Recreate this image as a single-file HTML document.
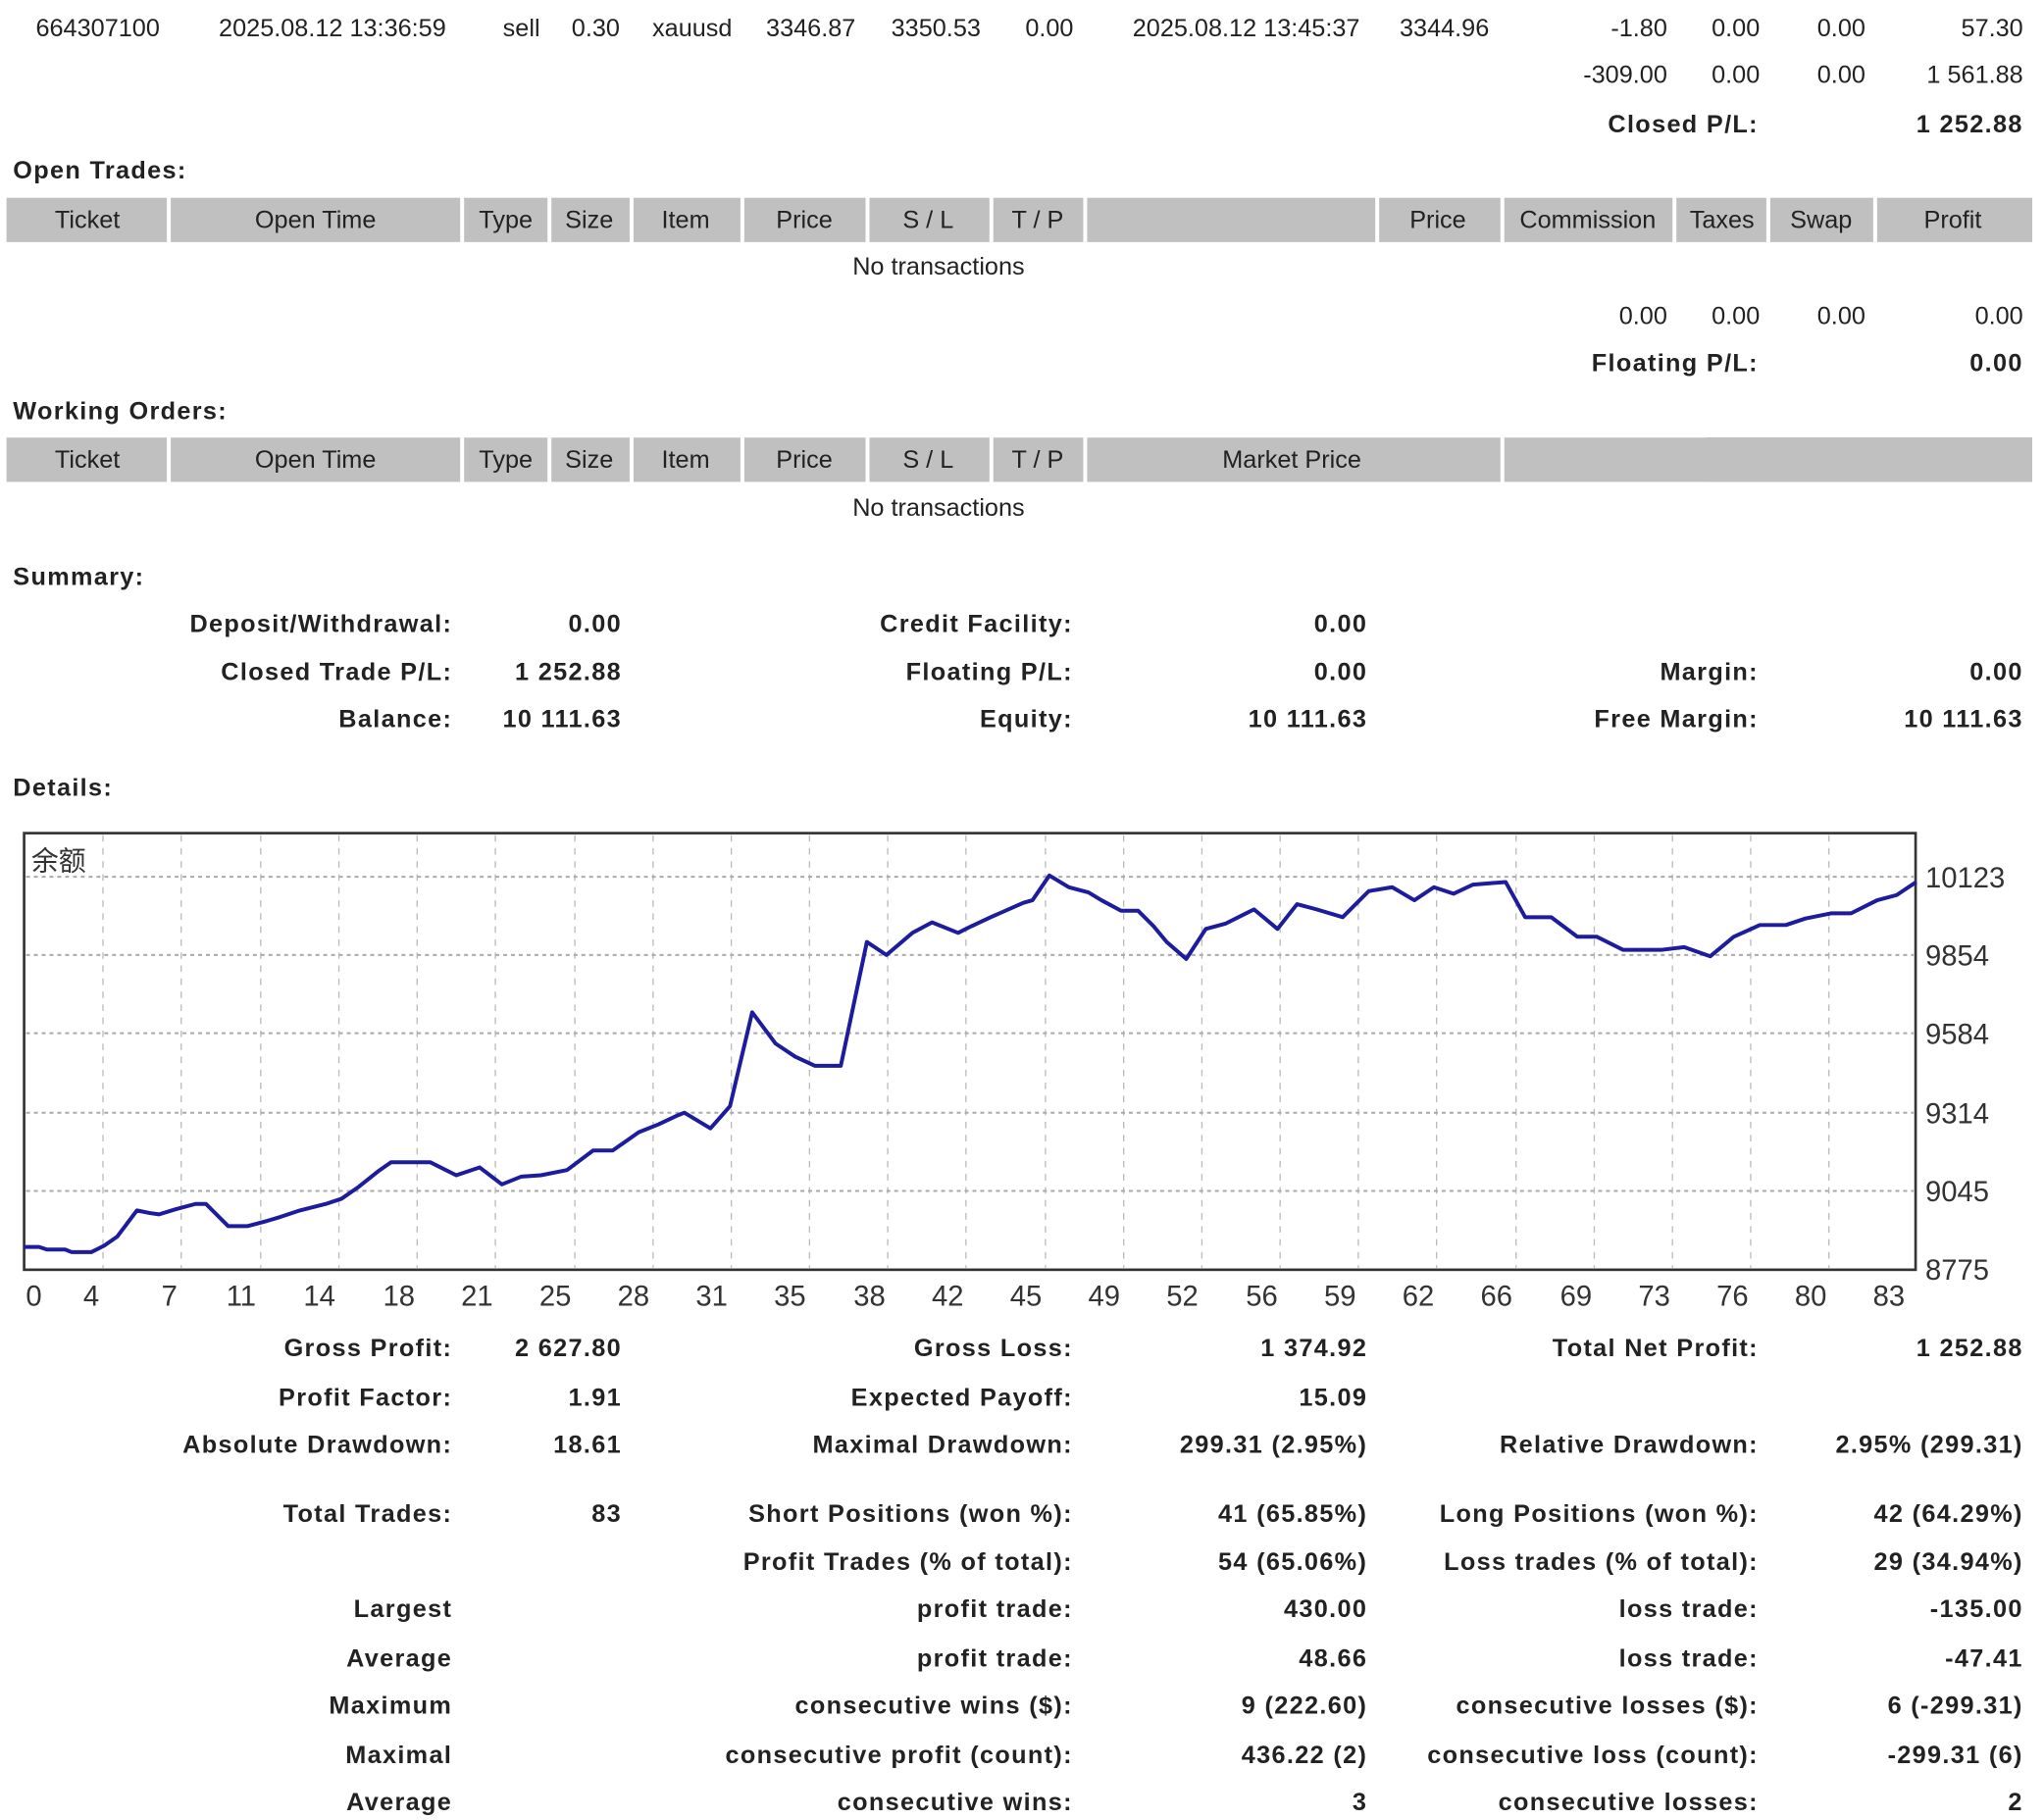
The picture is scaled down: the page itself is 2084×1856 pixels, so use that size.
<!DOCTYPE html>
<html><head><meta charset="utf-8"><style>
html,body{margin:0;padding:0;background:#fff;width:2084px;height:1856px;overflow:hidden}
#w{position:absolute;left:0;top:1px;width:1568px;height:1396px;transform:scale(1.32908);transform-origin:0 0;font-family:"Liberation Sans","Noto Sans CJK SC",sans-serif;font-size:19px;color:#222}
#w div{position:absolute;line-height:22px;white-space:nowrap}
.r{width:400px;text-align:right}
.c{width:300px;text-align:center}
.b{font-weight:bold;letter-spacing:1px}
.h{background:#c0c0c0;height:34px}
</style></head><body><div id="w">
<div class="c" style="left:-75px;top:11px">664307100</div>
<div class="c" style="left:105px;top:11px">2025.08.12 13:36:59</div>
<div class="c" style="left:250px;top:11px">sell</div>
<div class="c" style="left:307px;top:11px">0.30</div>
<div class="c" style="left:381px;top:11px">xauusd</div>
<div class="c" style="left:472px;top:11px">3346.87</div>
<div class="c" style="left:568px;top:11px">3350.53</div>
<div class="c" style="left:655px;top:11px">0.00</div>
<div class="c" style="left:806px;top:11px">2025.08.12 13:45:37</div>
<div class="c" style="left:958px;top:11px">3344.96</div>
<div class="r" style="left:879px;top:11px">-1.80</div>
<div class="r" style="left:950px;top:11px">0.00</div>
<div class="r" style="left:1031px;top:11px">0.00</div>
<div class="r" style="left:1152px;top:11px">57.30</div>
<div class="r" style="left:879px;top:47px">-309.00</div>
<div class="r" style="left:950px;top:47px">0.00</div>
<div class="r" style="left:1031px;top:47px">0.00</div>
<div class="r" style="left:1152px;top:47px">1 561.88</div>
<div class="r b" style="left:949px;top:85px">Closed P/L:</div>
<div class="r b" style="left:1152px;top:85px">1 252.88</div>
<div class="b" style="left:10px;top:120px">Open Trades:</div>
<div class="h" style="left:5px;top:151px;width:123px"></div>
<div class="h" style="left:131px;top:151px;width:222px"></div>
<div class="h" style="left:356px;top:151px;width:64px"></div>
<div class="h" style="left:423px;top:151px;width:60px"></div>
<div class="h" style="left:486px;top:151px;width:82px"></div>
<div class="h" style="left:571px;top:151px;width:93px"></div>
<div class="h" style="left:667px;top:151px;width:92px"></div>
<div class="h" style="left:762px;top:151px;width:69px"></div>
<div class="h" style="left:834px;top:151px;width:221px"></div>
<div class="h" style="left:1058px;top:151px;width:93px"></div>
<div class="h" style="left:1154px;top:151px;width:129px"></div>
<div class="h" style="left:1286px;top:151px;width:69px"></div>
<div class="h" style="left:1358px;top:151px;width:79px"></div>
<div class="h" style="left:1440px;top:151px;width:119px"></div>
<div class="c" style="left:-83px;top:158px">Ticket</div>
<div class="c" style="left:92px;top:158px">Open Time</div>
<div class="c" style="left:238px;top:158px">Type</div>
<div class="c" style="left:302px;top:158px">Size</div>
<div class="c" style="left:376px;top:158px">Item</div>
<div class="c" style="left:467px;top:158px">Price</div>
<div class="c" style="left:562px;top:158px">S / L</div>
<div class="c" style="left:646px;top:158px">T / P</div>
<div class="c" style="left:953px;top:158px">Price</div>
<div class="c" style="left:1068px;top:158px">Commission</div>
<div class="c" style="left:1171px;top:158px">Taxes</div>
<div class="c" style="left:1247px;top:158px">Swap</div>
<div class="c" style="left:1348px;top:158px">Profit</div>
<div class="c" style="left:570px;top:194px">No transactions</div>
<div class="r" style="left:879px;top:232px">0.00</div>
<div class="r" style="left:950px;top:232px">0.00</div>
<div class="r" style="left:1031px;top:232px">0.00</div>
<div class="r" style="left:1152px;top:232px">0.00</div>
<div class="r b" style="left:949px;top:268px">Floating P/L:</div>
<div class="r b" style="left:1152px;top:268px">0.00</div>
<div class="b" style="left:10px;top:305px">Working Orders:</div>
<div class="h" style="left:5px;top:335px;width:123px"></div>
<div class="h" style="left:131px;top:335px;width:222px"></div>
<div class="h" style="left:356px;top:335px;width:64px"></div>
<div class="h" style="left:423px;top:335px;width:60px"></div>
<div class="h" style="left:486px;top:335px;width:82px"></div>
<div class="h" style="left:571px;top:335px;width:93px"></div>
<div class="h" style="left:667px;top:335px;width:92px"></div>
<div class="h" style="left:762px;top:335px;width:69px"></div>
<div class="h" style="left:834px;top:335px;width:317px"></div>
<div class="h" style="left:1154px;top:335px;width:405px"></div>
<div class="c" style="left:-83px;top:342px">Ticket</div>
<div class="c" style="left:92px;top:342px">Open Time</div>
<div class="c" style="left:238px;top:342px">Type</div>
<div class="c" style="left:302px;top:342px">Size</div>
<div class="c" style="left:376px;top:342px">Item</div>
<div class="c" style="left:467px;top:342px">Price</div>
<div class="c" style="left:562px;top:342px">S / L</div>
<div class="c" style="left:646px;top:342px">T / P</div>
<div class="c" style="left:841px;top:342px">Market Price</div>
<div class="c" style="left:570px;top:379px">No transactions</div>
<div class="b" style="left:10px;top:432px">Summary:</div>
<div class="r b" style="left:-53px;top:468px">Deposit/Withdrawal:</div>
<div class="r b" style="left:77px;top:468px">0.00</div>
<div class="r b" style="left:423px;top:468px">Credit Facility:</div>
<div class="r b" style="left:649px;top:468px">0.00</div>
<div class="r b" style="left:-53px;top:505px">Closed Trade P/L:</div>
<div class="r b" style="left:77px;top:505px">1 252.88</div>
<div class="r b" style="left:423px;top:505px">Floating P/L:</div>
<div class="r b" style="left:649px;top:505px">0.00</div>
<div class="r b" style="left:949px;top:505px">Margin:</div>
<div class="r b" style="left:1152px;top:505px">0.00</div>
<div class="r b" style="left:-53px;top:541px">Balance:</div>
<div class="r b" style="left:77px;top:541px">10 111.63</div>
<div class="r b" style="left:423px;top:541px">Equity:</div>
<div class="r b" style="left:649px;top:541px">10 111.63</div>
<div class="r b" style="left:949px;top:541px">Free Margin:</div>
<div class="r b" style="left:1152px;top:541px">10 111.63</div>
<div class="b" style="left:10px;top:594px">Details:</div>

<svg style="position:absolute;left:0;top:0" width="1568" height="1396" viewBox="0 0 1568 1396">
<g stroke="#bbb" stroke-width="1" stroke-dasharray="5,5">
<line x1="79" y1="640" x2="79" y2="972"/><line x1="139" y1="640" x2="139" y2="972"/><line x1="200" y1="640" x2="200" y2="972"/><line x1="260" y1="640" x2="260" y2="972"/><line x1="320" y1="640" x2="320" y2="972"/><line x1="380" y1="640" x2="380" y2="972"/><line x1="441" y1="640" x2="441" y2="972"/><line x1="501" y1="640" x2="501" y2="972"/><line x1="561" y1="640" x2="561" y2="972"/><line x1="621" y1="640" x2="621" y2="972"/><line x1="681" y1="640" x2="681" y2="972"/><line x1="741" y1="640" x2="741" y2="972"/><line x1="802" y1="640" x2="802" y2="972"/><line x1="862" y1="640" x2="862" y2="972"/><line x1="922" y1="640" x2="922" y2="972"/><line x1="982" y1="640" x2="982" y2="972"/><line x1="1042" y1="640" x2="1042" y2="972"/><line x1="1102" y1="640" x2="1102" y2="972"/><line x1="1163" y1="640" x2="1163" y2="972"/><line x1="1223" y1="640" x2="1223" y2="972"/><line x1="1283" y1="640" x2="1283" y2="972"/><line x1="1343" y1="640" x2="1343" y2="972"/><line x1="1403" y1="640" x2="1403" y2="972"/>
</g>
<g stroke="#aaa" stroke-width="1.5" stroke-dasharray="3,3">
<line x1="20" y1="672" x2="1468" y2="672"/><line x1="20" y1="732" x2="1468" y2="732"/><line x1="20" y1="792" x2="1468" y2="792"/><line x1="20" y1="853" x2="1468" y2="853"/><line x1="20" y1="913" x2="1468" y2="913"/>
</g>
<rect x="18.5" y="638.5" width="1451" height="335" fill="none" stroke="#333" stroke-width="2"/>
<polyline fill="none" stroke="#1c1c9c" stroke-width="3" stroke-linejoin="round" points="18,956 30,956 36,958 50,958 55,960 70,960 80,955 90,948 105,928 115,930 122,931 135,927 150,923 158,923 175,940 190,940 205,936 215,933 230,928 250,923 262,919 275,910 290,898 300,891 330,891 350,901 368,895 385,908 400,902 415,901 435,897 455,882 470,882 490,868 505,862 520,855 525,853 545,865 560,848 577,776 595,800 610,810 625,817 645,817 665,722 680,732 700,715 715,707 735,715 745,710 760,703 785,692 792,690 805,671 820,680 835,684 845,690 860,698 873,698 885,710 895,722 910,735 925,712 940,708 962,697 980,712 995,693 1010,697 1030,703 1050,683 1068,680 1085,690 1100,680 1115,685 1130,678 1155,676 1170,703 1190,703 1210,718 1225,718 1245,728 1275,728 1292,726 1312,733 1330,718 1350,709 1370,709 1385,704 1405,700 1420,700 1440,690 1455,686 1470,676"/>
<g font-family="Liberation Sans, sans-serif" font-size="22" fill="#333">
<text x="1477" y="680">10123</text><text x="1477" y="740">9854</text><text x="1477" y="800">9584</text><text x="1477" y="861">9314</text><text x="1477" y="921">9045</text><text x="1477" y="981">8775</text>
</g>
<g font-family="Liberation Sans, sans-serif" font-size="22" fill="#333" text-anchor="middle">
<text x="26" y="1001">0</text><text x="70" y="1001">4</text><text x="130" y="1001">7</text><text x="185" y="1001">11</text><text x="245" y="1001">14</text><text x="306" y="1001">18</text><text x="366" y="1001">21</text><text x="426" y="1001">25</text><text x="486" y="1001">28</text><text x="546" y="1001">31</text><text x="606" y="1001">35</text><text x="667" y="1001">38</text><text x="727" y="1001">42</text><text x="787" y="1001">45</text><text x="847" y="1001">49</text><text x="907" y="1001">52</text><text x="968" y="1001">56</text><text x="1028" y="1001">59</text><text x="1088" y="1001">62</text><text x="1148" y="1001">66</text><text x="1209" y="1001">69</text><text x="1269" y="1001">73</text><text x="1329" y="1001">76</text><text x="1389" y="1001">80</text><text x="1449" y="1001">83</text>
</g>
<text x="24" y="667" font-family="Noto Sans CJK SC, sans-serif" font-size="21" fill="#333">余额</text>
</svg>

<div class="r b" style="left:-53px;top:1024px">Gross Profit:</div>
<div class="r b" style="left:77px;top:1024px">2 627.80</div>
<div class="r b" style="left:423px;top:1024px">Gross Loss:</div>
<div class="r b" style="left:649px;top:1024px">1 374.92</div>
<div class="r b" style="left:949px;top:1024px">Total Net Profit:</div>
<div class="r b" style="left:1152px;top:1024px">1 252.88</div>
<div class="r b" style="left:-53px;top:1062px">Profit Factor:</div>
<div class="r b" style="left:77px;top:1062px">1.91</div>
<div class="r b" style="left:423px;top:1062px">Expected Payoff:</div>
<div class="r b" style="left:649px;top:1062px">15.09</div>
<div class="r b" style="left:-53px;top:1098px">Absolute Drawdown:</div>
<div class="r b" style="left:77px;top:1098px">18.61</div>
<div class="r b" style="left:423px;top:1098px">Maximal Drawdown:</div>
<div class="r b" style="left:649px;top:1098px">299.31 (2.95%)</div>
<div class="r b" style="left:949px;top:1098px">Relative Drawdown:</div>
<div class="r b" style="left:1152px;top:1098px">2.95% (299.31)</div>
<div class="r b" style="left:-53px;top:1151px">Total Trades:</div>
<div class="r b" style="left:77px;top:1151px">83</div>
<div class="r b" style="left:423px;top:1151px">Short Positions (won %):</div>
<div class="r b" style="left:649px;top:1151px">41 (65.85%)</div>
<div class="r b" style="left:949px;top:1151px">Long Positions (won %):</div>
<div class="r b" style="left:1152px;top:1151px">42 (64.29%)</div>
<div class="r b" style="left:423px;top:1188px">Profit Trades (% of total):</div>
<div class="r b" style="left:649px;top:1188px">54 (65.06%)</div>
<div class="r b" style="left:949px;top:1188px">Loss trades (% of total):</div>
<div class="r b" style="left:1152px;top:1188px">29 (34.94%)</div>
<div class="r b" style="left:-53px;top:1224px">Largest</div>
<div class="r b" style="left:423px;top:1224px">profit trade:</div>
<div class="r b" style="left:649px;top:1224px">430.00</div>
<div class="r b" style="left:949px;top:1224px">loss trade:</div>
<div class="r b" style="left:1152px;top:1224px">-135.00</div>
<div class="r b" style="left:-53px;top:1262px">Average</div>
<div class="r b" style="left:423px;top:1262px">profit trade:</div>
<div class="r b" style="left:649px;top:1262px">48.66</div>
<div class="r b" style="left:949px;top:1262px">loss trade:</div>
<div class="r b" style="left:1152px;top:1262px">-47.41</div>
<div class="r b" style="left:-53px;top:1298px">Maximum</div>
<div class="r b" style="left:423px;top:1298px">consecutive wins ($):</div>
<div class="r b" style="left:649px;top:1298px">9 (222.60)</div>
<div class="r b" style="left:949px;top:1298px">consecutive losses ($):</div>
<div class="r b" style="left:1152px;top:1298px">6 (-299.31)</div>
<div class="r b" style="left:-53px;top:1336px">Maximal</div>
<div class="r b" style="left:423px;top:1336px">consecutive profit (count):</div>
<div class="r b" style="left:649px;top:1336px">436.22 (2)</div>
<div class="r b" style="left:949px;top:1336px">consecutive loss (count):</div>
<div class="r b" style="left:1152px;top:1336px">-299.31 (6)</div>
<div class="r b" style="left:-53px;top:1372px">Average</div>
<div class="r b" style="left:423px;top:1372px">consecutive wins:</div>
<div class="r b" style="left:649px;top:1372px">3</div>
<div class="r b" style="left:949px;top:1372px">consecutive losses:</div>
<div class="r b" style="left:1152px;top:1372px">2</div>
</div></body></html>
